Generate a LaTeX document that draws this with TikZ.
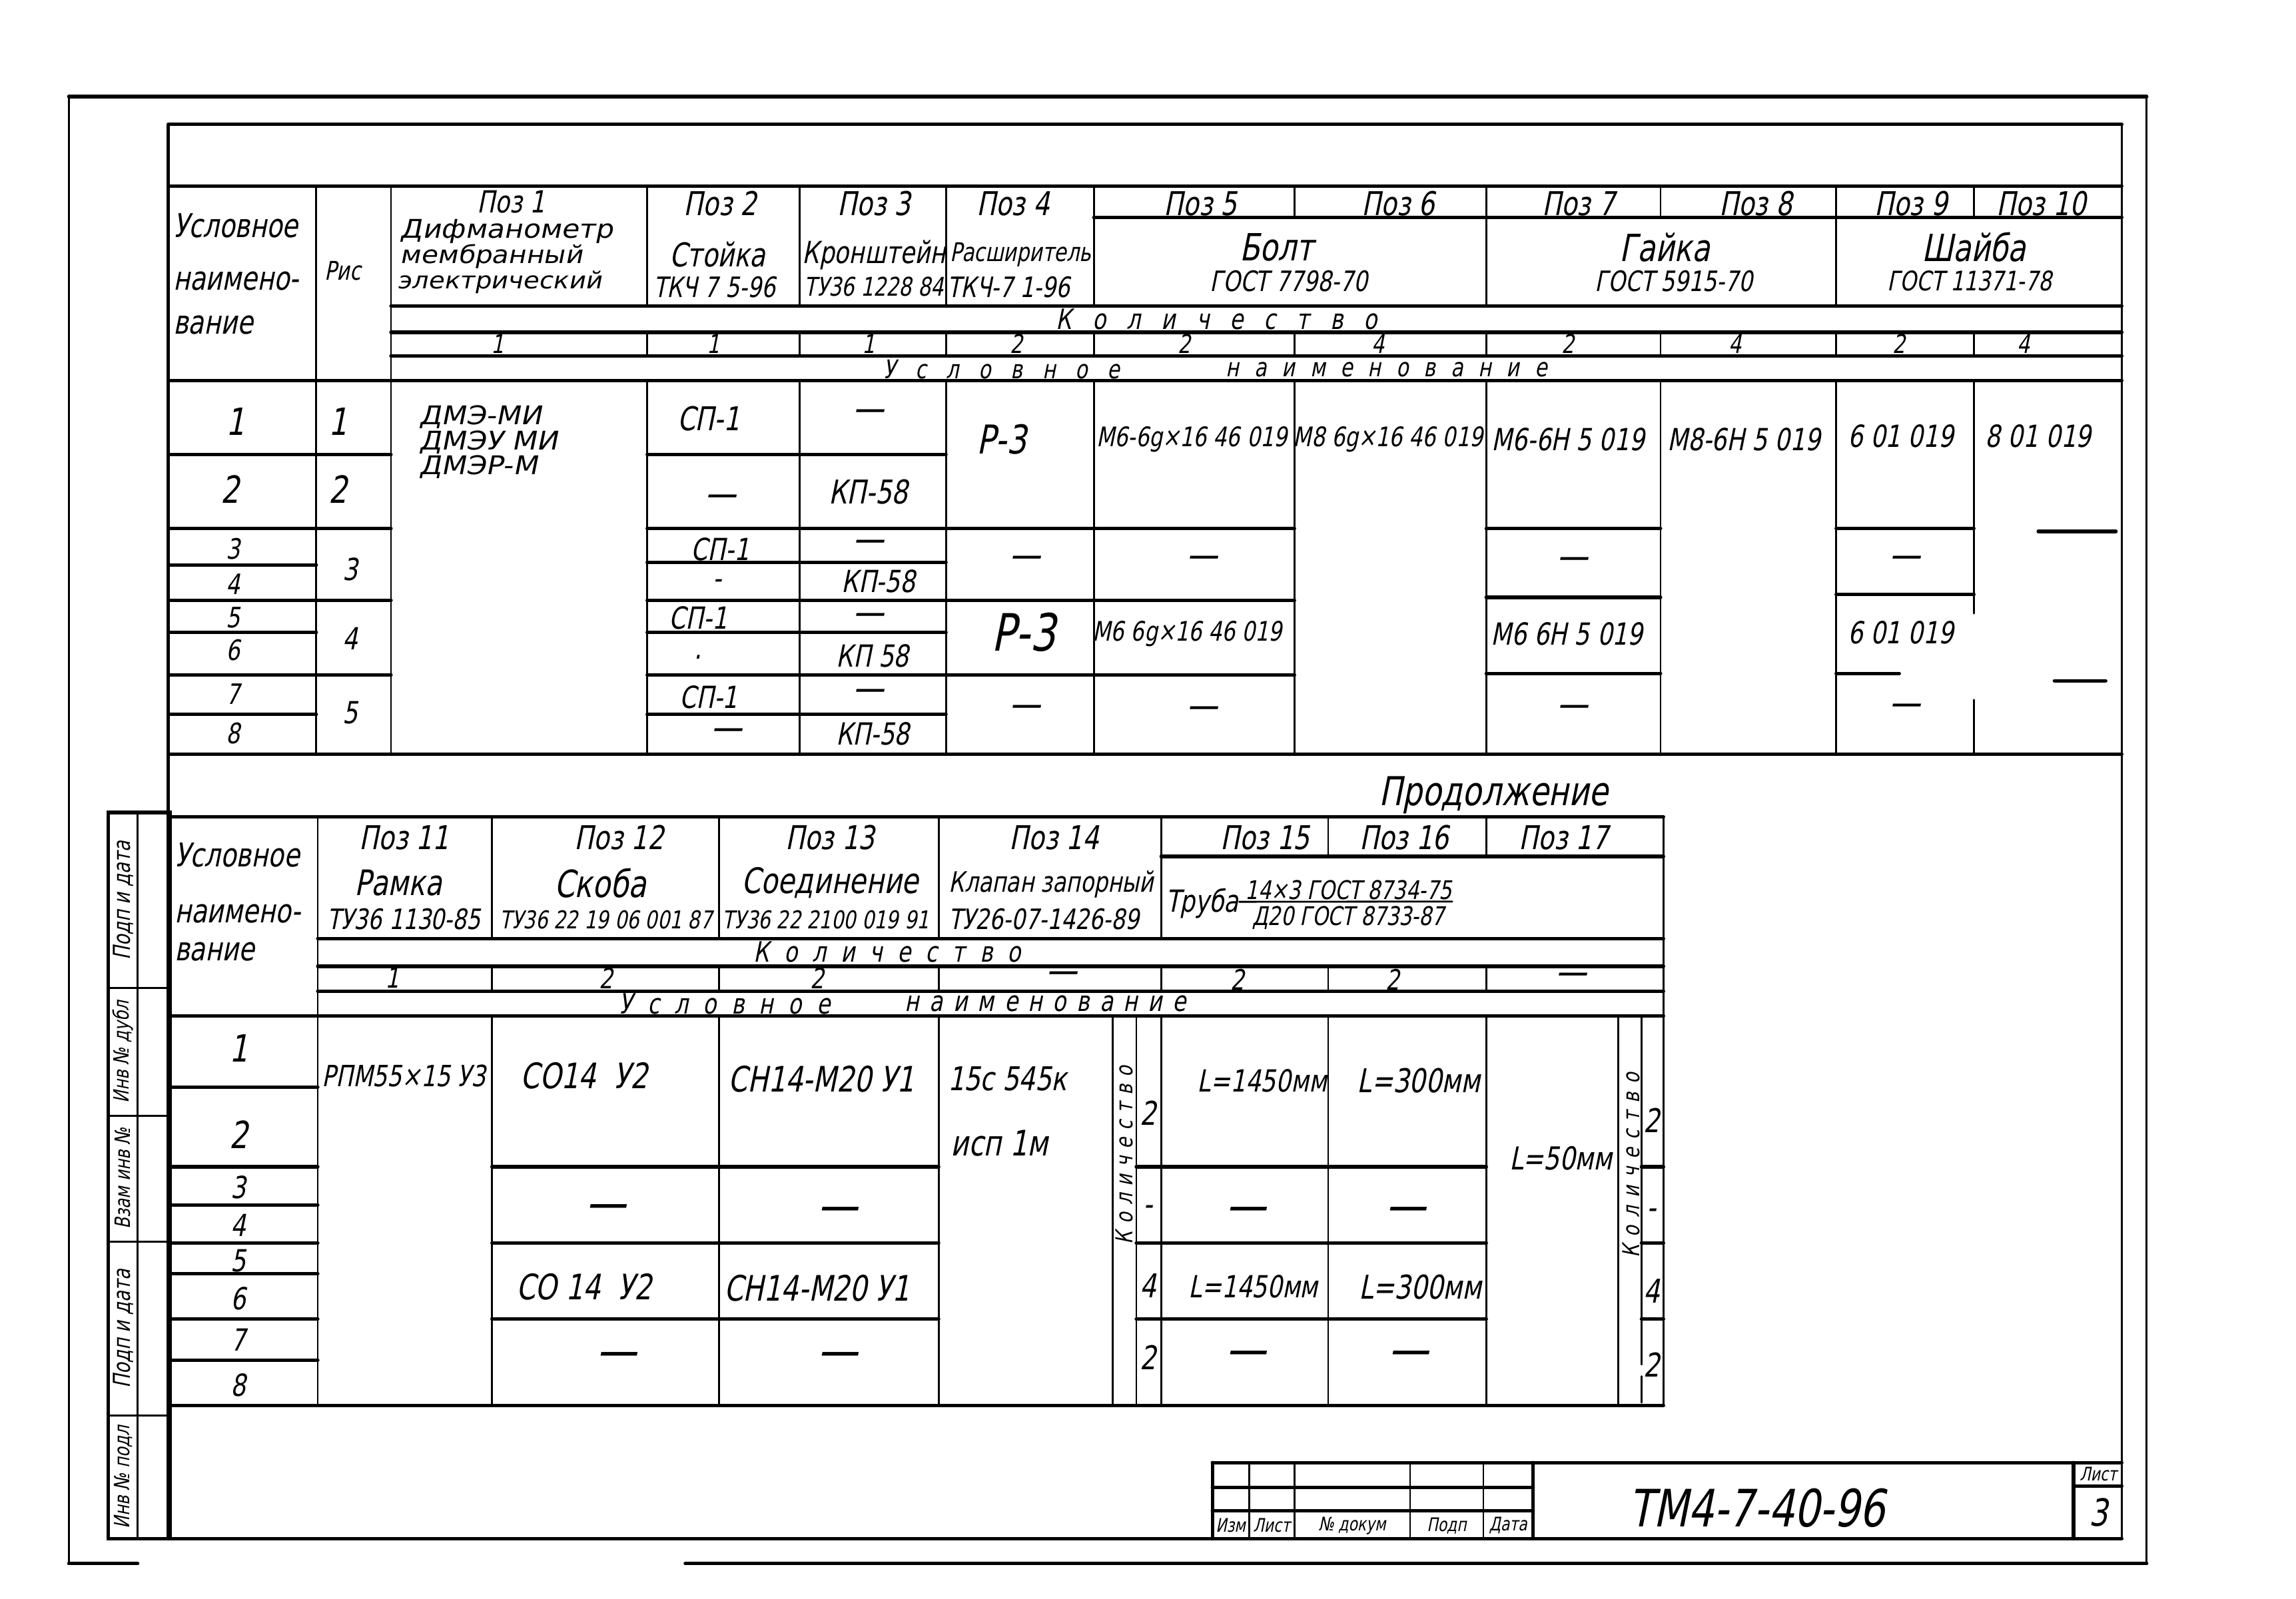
\documentclass[tikz,border=0pt]{standalone}
\usepackage{fontspec}
\setmainfont{DejaVu Sans}[FakeSlant=0.2,FakeStretch=0.78]
\newfontfamily\wfam{DejaVu Sans}[FakeSlant=0.2,FakeStretch=1.1]
\newcommand\fsz[1]{\fontsize{#1}{#1}\selectfont}
\newcommand\sprd[2]{\makebox[#1][s]{#2}}
\begin{document}
\begin{tikzpicture}[x=0.02198cm,y=-0.02198cm,
 thk/.style={line width=1.5pt,line cap=round},
 thn/.style={line width=0.8pt,line cap=round},
 lb/.style={inner sep=0pt,font=\fsz{#1}},
 lbw/.style={inner sep=0pt,anchor=west,font=\fsz{#1}},
 lbx/.style={inner sep=0pt,anchor=west,font=\wfam\fsz{#1}},
 dsh/.style={inner sep=0pt,font=\fsz{17}},
 dshb/.style={inner sep=0pt,font=\fsz{22}}]
\useasboundingbox (0,0) rectangle (1568,1092);
\fill[white] (0,0) rectangle (1568,1092);

% ---------------- outer frame
\draw[thk] (47,66) -- (1466,66);
\draw[thn] (47,66) -- (47,1068);
\draw[thn] (1466,66) -- (1466,1068);
\draw[thk] (47,1068) -- (94,1068);
\draw[thk] (468,1068) -- (1466,1068);
% ---------------- inner frame
\draw[thk] (115,85) -- (1449,85);
\draw[thk] (115,85) -- (115,1051);
\draw[thn] (1449,85) -- (1449,1051);
\draw[thk] (74,1051) -- (1449,1051);

% ---------------- top table lines
\draw[thk] (115,127) -- (1449,127);
\draw[thk] (747,148.5) -- (1449,148.5);
\foreach \y in {209,227,243} \draw[thk] (267,\y) -- (1449,\y);
\draw[thk] (115,260) -- (1449,260);
\draw[thk] (115,515) -- (1449,515);
\draw[thk] (115,310.5) -- (267,310.5) (442,310.5) -- (646,310.5);
\draw[thk] (115,361) -- (267,361) (442,361) -- (884,361) (1015,361) -- (1134,361) (1254,361) -- (1348,361);
\draw[thk] (1392,363) -- (1445,363);
\draw[thk] (115,386) -- (216,386) (442,384) -- (646,384);
\draw[thk] (115,410) -- (267,410) (442,410) -- (884,410) (1015,408) -- (1134,408) (1254,406) -- (1348,406);
\draw[thk] (115,432) -- (216,432) (442,432) -- (646,432);
\draw[thk] (115,461) -- (267,461) (442,461) -- (884,461) (1015,460) -- (1134,460) (1254,460) -- (1297,460);
\draw[thk] (1403,465) -- (1438,465);
\draw[thk] (115,488) -- (216,488) (442,488) -- (646,488);
\draw[thn] (216,127) -- (216,515);
\draw[thn] (267,127) -- (267,515);
\foreach \x in {442,546,646,747,1015,1254}
  \draw[thn] (\x,127) -- (\x,209) (\x,227) -- (\x,243) (\x,260) -- (\x,515);
\foreach \x in {884,1134}
  \draw[thn] (\x,127) -- (\x,148.5) (\x,227) -- (\x,243) (\x,260) -- (\x,515);
\draw[thn] (1348,127) -- (1348,148.5) (1348,227) -- (1348,243) (1348,260) -- (1348,419) (1348,478) -- (1348,515);

% ---------------- bottom table lines
\draw[thk] (115,558) -- (1136,558);
\draw[thk] (793,585) -- (1136,585);
\foreach \y in {641,660,677} \draw[thk] (217,\y) -- (1136,\y);
\draw[thk] (115,694) -- (1136,694);
\draw[thk] (115,960) -- (1136,960);
\foreach \y in {742.5,823,870,929} \draw[thk] (115,\y) -- (217,\y);
\foreach \y in {797,849,901}
  \draw[thk] (115,\y) -- (217,\y) (336,\y) -- (641,\y) (776,\y) -- (1015,\y) (1121,\y) -- (1136,\y);
\draw[thn] (217,558) -- (217,960);
\foreach \x in {336,491,641,793}
  \draw[thn] (\x,558) -- (\x,641) (\x,660) -- (\x,677) (\x,694) -- (\x,960);
\foreach \x in {907,1015}
  \draw[thn] (\x,558) -- (\x,585) (\x,660) -- (\x,677) (\x,694) -- (\x,960);
\draw[thn] (1136,558) -- (1136,960);
\foreach \x in {760,776,1105} \draw[thn] (\x,694) -- (\x,960);
\draw[thn] (1121,694) -- (1121,932) (1121,940) -- (1121,958);

% ---------------- left stamp
\draw[thk] (74,555) rectangle (116,1051);
\draw[thn] (94,555) -- (94,1051);
\foreach \y in {675,762,848,967} \draw[thn] (74,\y) -- (116,\y);

% ---------------- title block
\draw[thk] (828,999) -- (1449,999);
\draw[thk] (828,999) -- (828,1051);
\foreach \x in {853,884,963,1013} \draw[thn] (\x,999) -- (\x,1051);
\draw[thk] (1047,999) -- (1047,1051);
\draw[thk] (1416,999) -- (1416,1051);
\draw[thk] (828,1016) -- (1047,1016) (828,1032) -- (1047,1032);
\draw[thk] (1416,1015) -- (1449,1015);

% ================= texts: top table header
\node[lbw=14] (ua) at (118,154) {Условное};
\node[lbw=14] (ub) at (118,192) {наимено-};
\node[lbw=14] (uc) at (118,222) {вание};
\node[lb=11] (ris) at (234,185) {Рис};
\node[lb=13] (p1) at (349,138) {Поз 1};
\node[lbx=11] (p1a) at (273,158) {Дифманометр};
\node[lbx=10.5] (p1b) at (273,175) {мембранный};
\node[lbx=10] (p1c) at (271,193) {электрический};
\node[lb=14] (p2) at (492,139) {Поз 2};
\node[lb=14] (p2a) at (490,174) {Стойка};
\node[lb=12] (p2b) at (488,196) {ТКЧ 7 5-96};
\node[lb=14] (p3) at (597,139) {Поз 3};
\node[lb=13] (p3a) at (597,174) {Кронштейн};
\node[lb=11] (p3b) at (597,196) {ТУ36 1228 84};
\node[lb=14] (p4) at (692,139) {Поз 4};
\node[lb=11] (p4a) at (697,174) {Расширитель};
\node[lb=12] (p4b) at (689,196) {ТКЧ-7 1-96};
\node[lb=14] (p5) at (820,139) {Поз 5};
\node[lb=14] (p6) at (955,139) {Поз 6};
\node[lb=14] (p7) at (1078,139) {Поз 7};
\node[lb=14] (p8) at (1199,139) {Поз 8};
\node[lb=14] (p9) at (1305,139) {Поз 9};
\node[lb=14] (p10) at (1394,139) {Поз 10};
\node[lb=16] (bolt) at (872,169) {Болт};
\node[lb=12] (boltg) at (880,192) {ГОСТ 7798-70};
\node[lb=16] (gai) at (1137,169) {Гайка};
\node[lb=12] (gaig) at (1143,192) {ГОСТ 5915-70};
\node[lb=16] (sha) at (1348,169) {Шайба};
\node[lb=11.5] (shag) at (1345,192) {ГОСТ 11371-78};
\node[lb=12] (kol1) at (831,218) {\sprd{137pt}{К\hfil о\hfil л\hfil и\hfil ч\hfil е\hfil с\hfil т\hfil в\hfil о}};
\node[lb=11] (n1) at (340,235) {1};
\node[lb=11] (n2) at (487,235) {1};
\node[lb=11] (n3) at (593,235) {1};
\node[lb=11] (n4) at (694,235) {2};
\node[lb=11] (n5) at (809,235) {2};
\node[lb=11] (n6) at (941,235) {4};
\node[lb=11] (n7) at (1071,235) {2};
\node[lb=11] (n8) at (1185,235) {4};
\node[lb=11] (n9) at (1297,235) {2};
\node[lb=11] (n10) at (1382,235) {4};
\node[lb=11] (usl1) at (684,252.5) {\sprd{101pt}{У\hfil с\hfil л\hfil о\hfil в\hfil н\hfil о\hfil е}};
\node[lb=11] (naim1) at (947,252.5) {\sprd{137pt}{н\hfil а\hfil и\hfil м\hfil е\hfil н\hfil о\hfil в\hfil а\hfil н\hfil и\hfil е}};

% ================= top table data
\node[lb=16] (r1) at (161,288) {1};
\node[lb=16] (r2) at (157,334) {2};
\node[lb=12] (r3) at (159,375) {3};
\node[lb=12] (r4) at (159,399) {4};
\node[lb=12] (r5) at (159,422) {5};
\node[lb=12] (r6) at (159,444) {6};
\node[lb=12] (r7) at (159,474) {7};
\node[lb=12] (r8) at (159,501) {8};
\node[lb=16] (f1) at (231,288) {1};
\node[lb=16] (f2) at (231,334) {2};
\node[lb=13] (f3) at (239,389) {3};
\node[lb=13] (f4) at (239,436) {4};
\node[lb=13] (f5) at (239,487) {5};
\node[lbx=11] (d1a) at (286,285) {ДМЭ-МИ};
\node[lbx=11] (d1b) at (286,302) {ДМЭУ МИ};
\node[lbx=11] (d1c) at (286,319) {ДМЭР-М};
\node[lb=14] (d2a) at (484,286) {СП-1};
\node[dsh] (d2b) at (492,342) {—};
\node[lb=13] (d2c) at (492,375) {СП-1};
\node[lb=13] (d2d) at (490,399) {-};
\node[lb=13] (d2e) at (477,422) {СП-1};
\node[lb=13] (d2f) at (477,449) {.};
\node[lb=13] (d2g) at (484,476) {СП-1};
\node[dsh] (d2h) at (496,502) {—};
\node[dsh] (d3a) at (593,284) {—};
\node[lb=14] (d3b) at (593,336) {КП-58};
\node[dsh] (d3c) at (593,373) {—};
\node[lb=13] (d3d) at (600,397) {КП-58};
\node[dsh] (d3e) at (593,423) {—};
\node[lb=13] (d3f) at (596,448) {КП 58};
\node[dsh] (d3g) at (593,475) {—};
\node[lb=13] (d3h) at (596,501) {КП-58};
\node[lb=17] (d4a) at (684,300) {Р-3};
\node[dsh] (d4b) at (700,384) {—};
\node[lb=22] (d4c) at (699,432) {Р-3};
\node[dsh] (d4d) at (700,486) {—};
\node[lb=11.5] (d5a) at (814,300) {M6-6g×16 46 019};
\node[dsh] (d5b) at (821,384) {—};
\node[lb=11.5] (d5c) at (811,433) {M6 6g×16 46 019};
\node[dsh] (d5d) at (821,487) {—};
\node[lb=11.5] (d6a) at (948,300) {M8 6g×16 46 019};
\node[lb=13] (d7a) at (1071,300) {M6-6H 5 019};
\node[dsh] (d7b) at (1074,385) {—};
\node[lb=13] (d7c) at (1070,433) {M6 6H 5 019};
\node[dsh] (d7d) at (1074,486) {—};
\node[lb=13] (d8a) at (1191,300) {M8-6H 5 019};
\node[lb=13] (d9a) at (1298,298) {6 01 019};
\node[dsh] (d9b) at (1301,384) {—};
\node[lb=13] (d9c) at (1298,432) {6 01 019};
\node[dsh] (d9d) at (1301,485) {—};
\node[lb=13] (d10a) at (1392,298) {8 01 019};

% ================= bottom table
\node[lb=17] (cont) at (1020,543) {Продолжение};
\node[lbw=14] (bu1) at (119,584) {Условное};
\node[lbw=14] (bu2) at (119,624) {наимено-};
\node[lbw=14] (bu3) at (119,650) {вание};
\node[lb=14] (q11) at (276,572) {Поз 11};
\node[lb=14] (q12) at (423,572) {Поз 12};
\node[lb=14] (q13) at (567,572) {Поз 13};
\node[lb=14] (q14) at (720,572) {Поз 14};
\node[lb=14] (q15) at (864,572) {Поз 15};
\node[lb=14] (q16) at (959,572) {Поз 16};
\node[lb=14] (q17) at (1068,572) {Поз 17};
\node[lb=15] (q11a) at (272,603) {Рамка};
\node[lb=12] (q11b) at (276,628) {ТУ36 1130-85};
\node[lb=16] (q12a) at (410,603) {Скоба};
\node[lb=10.5] (q12b) at (414,628) {ТУ36 22 19 06 001 87};
\node[lb=15] (q13a) at (567,603) {Соединение};
\node[lb=10.5] (q13b) at (564,628) {ТУ36 22 2100 019 91};
\node[lb=12] (q14a) at (718,604) {Клапан запорный};
\node[lb=12] (q14b) at (713,628) {ТУ26-07-1426-89};
\node[lb=13] (tr) at (821,617) {Труба};
\node[lb=11] (trn) at (921,608) {14×3 ГОСТ 8734-75};
\node[lb=11] (trd) at (921,627) {Д20 ГОСТ 8733-87};
\draw[thn] (trn.south west) ++(-4,1) -- ([yshift=-0.5pt]trn.south east);
\node[lb=12] (kol2) at (606,650) {\sprd{114pt}{К\hfil о\hfil л\hfil и\hfil ч\hfil е\hfil с\hfil т\hfil в\hfil о}};
\node[lb=12] (m11) at (268,668) {1};
\node[lb=12] (m12) at (414,668) {2};
\node[lb=12] (m13) at (558,668) {2};
\node[dsh] (m14) at (725,668) {—};
\node[lb=12] (m15) at (845,669) {2};
\node[lb=12] (m16) at (951,669) {2};
\node[dsh] (m17) at (1073,669) {—};
\node[lb=12] (usl2) at (495,685.5) {\sprd{90pt}{У\hfil с\hfil л\hfil о\hfil в\hfil н\hfil о\hfil е}};
\node[lb=12] (naim2) at (714,685.5) {\sprd{120pt}{н\hfil а\hfil и\hfil м\hfil е\hfil н\hfil о\hfil в\hfil а\hfil н\hfil и\hfil е}};

\node[lb=16] (b1) at (163,716) {1};
\node[lb=16] (b2) at (163,775) {2};
\node[lb=13] (b3) at (163,811) {3};
\node[lb=13] (b4) at (163,837) {4};
\node[lb=13] (b5) at (163,861) {5};
\node[lb=13] (b6) at (163,887) {6};
\node[lb=13] (b7) at (163,915) {7};
\node[lb=13] (b8) at (163,946) {8};
\node[lb=12.5] (c11) at (276,735) {РПМ55×15 У3};
\node[lb=15] (c12a) at (399,735) {СО14\ \ У2};
\node[dshb] (c12b) at (414,828) {—};
\node[lb=15] (c12c) at (399,879) {СО 14\ \ У2};
\node[dshb] (c12d) at (421,929) {—};
\node[lb=15] (c13a) at (561,737) {СН14-М20 У1};
\node[dshb] (c13b) at (572,830) {—};
\node[lb=15] (c13c) at (558,880) {СН14-М20 У1};
\node[dshb] (c13d) at (572,929) {—};
\node[lbw=14] (c14a) at (647,737) {15с 545к};
\node[lbw=15] (c14b) at (649,781) {исп 1м};
\node[lb=10,rotate=90] (k1) at (768,789) {\sprd{76pt}{К\hfil о\hfil л\hfil и\hfil ч\hfil е\hfil с\hfil т\hfil в\hfil о}};
\node[lb=14] (k1a) at (784,760) {2};
\node[lb=14] (k1b) at (784,827) {-};
\node[lb=14] (k1c) at (784,878) {4};
\node[lb=14] (k1d) at (784,927) {2};
\node[lb=13] (c15a) at (862,738) {L=1450мм};
\node[dshb] (c15b) at (851,830) {—};
\node[lb=13] (c15c) at (856,879) {L=1450мм};
\node[dshb] (c15d) at (851,928) {—};
\node[lb=14] (c16a) at (969,738) {L=300мм};
\node[dshb] (c16b) at (960,830) {—};
\node[lb=14] (c16c) at (970,879) {L=300мм};
\node[dshb] (c16d) at (962,928) {—};
\node[lb=13.5] (c17) at (1066,791) {L=50мм};
\node[lb=10,rotate=90] (k2) at (1114,796) {\sprd{79pt}{К\hfil о\hfil л\hfil и\hfil ч\hfil е\hfil с\hfil т\hfil в\hfil о}};
\node[lb=14] (k2a) at (1128,765) {2};
\node[lb=14] (k2b) at (1128,829) {-};
\node[lb=14] (k2c) at (1128,882) {4};
\node[lb=14] (k2d) at (1128,932) {2};

% ================= stamp texts
\node[lb=10,rotate=90] (s1) at (84,615) {Подп и дата};
\node[lb=9,rotate=90] (s2) at (84,718.5) {Инв № дубл};
\node[lb=9,rotate=90] (s3) at (84,805) {Взам инв №};
\node[lb=10,rotate=90] (s4) at (84,907.5) {Подп и дата};
\node[lb=9,rotate=90] (s5) at (84,1009) {Инв № подл};

% ================= title block texts
\node[lb=22] (tb) at (1200,1030) {ТМ4-7-40-96};
\node[lb=8] (tl1) at (840.5,1042) {Изм};
\node[lb=8] (tl2) at (868.5,1042) {Лист};
\node[lb=8] (tl3) at (923.5,1042) {№ докум};
\node[lb=8] (tl4) at (988,1042) {Подп};
\node[lb=8] (tl5) at (1030,1042) {Дата};
\node[lb=8] (tl6) at (1433,1007) {Лист};
\node[lb=16] (tl7) at (1433,1033) {3};
\end{tikzpicture}
\end{document}
